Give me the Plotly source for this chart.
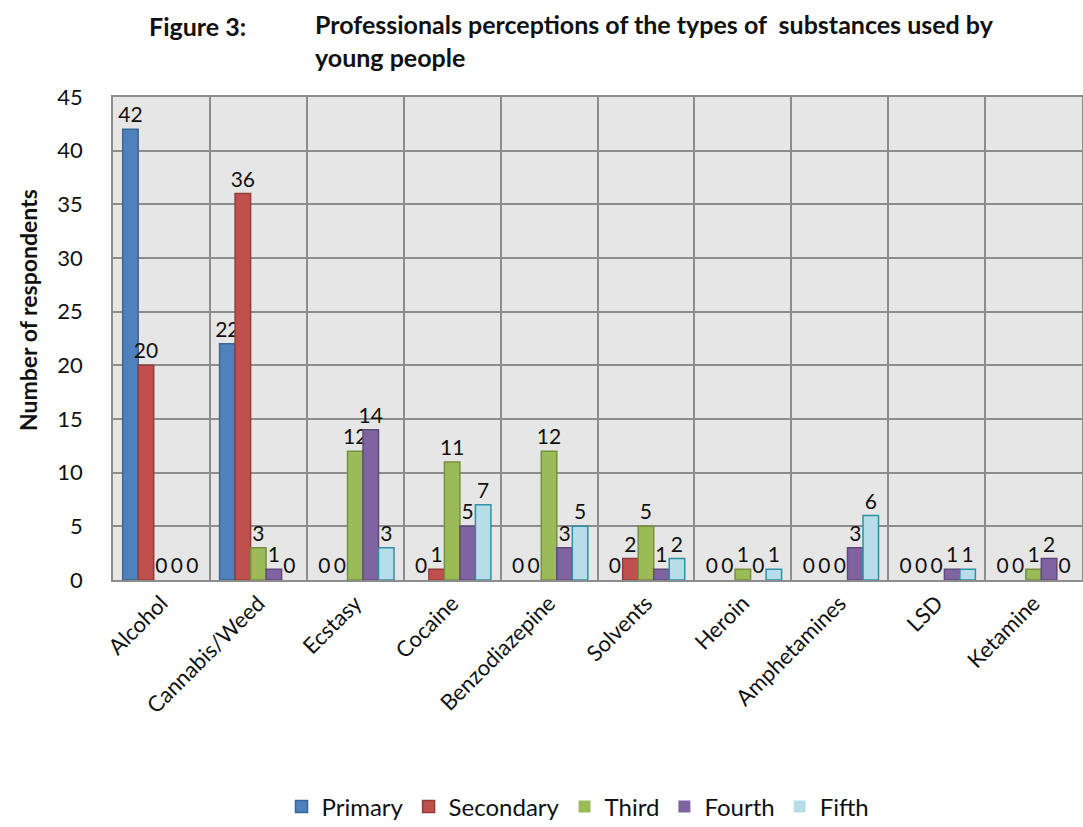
import plotly.graph_objects as go

categories = ["Alcohol", "Cannabis/Weed", "Ecstasy", "Cocaine", "Benzodiazepine",
              "Solvents", "Heroin", "Amphetamines", "LSD", "Ketamine"]

primary = [42, 22, 0, 0, 0, 0, 0, 0, 0, 0]
secondary = [20, 36, 0, 1, 0, 2, 0, 0, 0, 0]
third = [0, 3, 12, 11, 12, 5, 1, 0, 0, 1]
fourth = [0, 1, 14, 5, 3, 1, 0, 3, 1, 2]
fifth = [0, 0, 3, 7, 5, 2, 1, 6, 1, 0]

y_ticks = [0, 5, 10, 15, 20, 25, 30, 35, 40, 45]

series = [
    ("Primary", primary, "#4f81bd", "#3a6694"),
    ("Secondary", secondary, "#c0504d", "#943c3a"),
    ("Third", third, "#9bbb59", "#76903f"),
    ("Fourth", fourth, "#8064a2", "#5f4a7d"),
    ("Fifth", fifth, "#b7dee8", "#2f8fa6"),
]

FONT = "Lato, Calibri, Arial, sans-serif"

# plot area in pixels
L, R, T, B = 113, 1082, 97, 580
PW, PH = R - L, B - T

fig = go.Figure()
for name, vals, fill, edge in series:
    fig.add_trace(go.Bar(
        name=name,
        x=categories,
        y=vals,
        # empty bars get no outline so nothing is drawn along the base
        marker=dict(color=fill,
                    line=dict(color=edge, width=[1.5 if v else 0 for v in vals])),
        text=[str(v) for v in vals],
        textposition="outside",
        constraintext="none",
        cliponaxis=False,
        textfont=dict(size=21, color="#111111", family=FONT),
    ))

fig.update_layout(
    width=1083,
    height=827,
    barmode="group",
    bargap=0.2,
    bargroupgap=0,
    paper_bgcolor="white",
    plot_bgcolor="#e6e6e6",
    margin=dict(l=L, r=1083 - R, t=T, b=827 - B, autoexpand=False),
    font=dict(family=FONT, size=21, color="#111111"),
    showlegend=True,
    legend=dict(
        orientation="h",
        x=(578 - L) / PW, xanchor="center",
        y=-(807 - B) / PH, yanchor="middle",
        font=dict(size=24, family=FONT),
        traceorder="normal",
    ),
    xaxis=dict(
        type="category",
        tickson="boundaries",
        showgrid=True,
        gridcolor="#8c8c8c",
        gridwidth=1.5,
        showline=True,
        linecolor="#8c8c8c",
        linewidth=1.5,
        mirror=True,
        tickangle=-45,
        ticks="",
        tickfont=dict(size=22, family=FONT),
    ),
    yaxis=dict(
        range=[0, 45],
        tickvals=y_ticks,
        showgrid=True,
        gridcolor="#8c8c8c",
        gridwidth=1.5,
        showline=True,
        linecolor="#8c8c8c",
        linewidth=1.5,
        mirror=True,
        ticks="",
        ticklabelstandoff=24,
        zeroline=False,
        tickfont=dict(size=22, family=FONT),
    ),
    annotations=[
        dict(text="<b>Number of respondents</b>", xref="paper", yref="paper",
             x=(28 - L) / PW, y=(B - 310) / PH, textangle=-90,
             xanchor="center", yanchor="middle", showarrow=False,
             font=dict(size=23, family=FONT)),
        dict(text="<b>Figure 3:</b>", xref="paper", yref="paper",
             x=(147 - L) / PW, y=1 + (T - 26) / PH,
             xanchor="left", yanchor="middle", showarrow=False,
             font=dict(size=25, family=FONT)),
        dict(text="<b>Professionals perceptions of the types of  substances used by<br>young people</b>",
             xref="paper", yref="paper",
             x=(313 - L) / PW, y=1 + (T - 41) / PH,
             xanchor="left", yanchor="middle", align="left", showarrow=False,
             font=dict(size=25, family=FONT)),
    ],
)

fig.write_html("out.html")
